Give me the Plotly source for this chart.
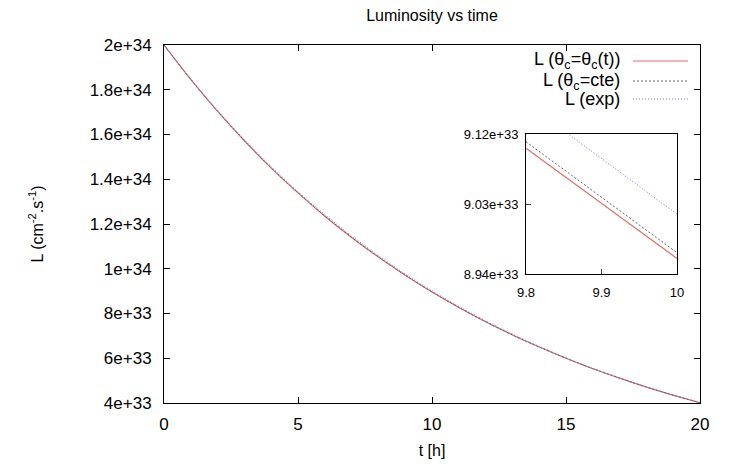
import plotly.graph_objects as go

# ---- data ----
t_hours = [0, 1, 2, 3, 4, 5, 6, 7, 8, 9, 10, 11, 12, 13, 14, 15, 16, 17, 18, 19, 20]
L_theta_t = [2.000e34, 1.846e34, 1.703e34, 1.572e34, 1.450e34, 1.339e34, 1.235e34, 1.140e34,
             1.052e34, 9.710e33, 8.960e33, 8.270e33, 7.630e33, 7.040e33, 6.500e33, 6.000e33,
             5.530e33, 5.110e33, 4.710e33, 4.350e33, 4.010e33]
L_theta_cte = [2.000e34, 1.846e34, 1.704e34, 1.573e34, 1.451e34, 1.340e34, 1.236e34, 1.141e34,
               1.053e34, 9.717e33, 8.967e33, 8.276e33, 7.636e33, 7.045e33, 6.504e33, 6.003e33,
               5.533e33, 5.112e33, 4.712e33, 4.351e33, 4.010e33]
L_exp = [2.000e34, 1.848e34, 1.707e34, 1.577e34, 1.456e34, 1.345e34, 1.242e34, 1.147e34,
         1.059e34, 9.770e33, 9.017e33, 8.320e33, 7.675e33, 7.080e33, 6.530e33, 6.025e33,
         5.550e33, 5.125e33, 4.720e33, 4.356e33, 4.010e33]

# zoomed detail (inset)
t_zoom = [9.8, 9.9, 10.0]
Lz_theta_t = [9.1016e33, 9.0310e33, 8.9600e33]
Lz_theta_cte = [9.1100e33, 9.0390e33, 8.9674e33]
Lz_exp = [9.1600e33, 9.0880e33, 9.0170e33]

x_ticks = [0, 5, 10, 15, 20]
y_ticks = [4e33, 6e33, 8e33, 1e34, 1.2e34, 1.4e34, 1.6e34, 1.8e34, 2e34]
y_tick_labels = ["4e+33", "6e+33", "8e+33", "1e+34", "1.2e+34", "1.4e+34", "1.6e+34", "1.8e+34", "2e+34"]
inset_x_ticks = [9.8, 9.9, 10]
inset_x_labels = ["9.8", "9.9", "10"]
inset_y_ticks = [8.94e33, 9.03e33, 9.12e33]
inset_y_labels = ["8.94e+33", "9.03e+33", "9.12e+33"]

legend_labels = ["L (θ<sub>c</sub>=θ<sub>c</sub>(t))", "L (θ<sub>c</sub>=cte)", "L (exp)"]

RED = "rgb(222,110,110)"
GREY = "rgb(100,100,100)"
BLUE = "rgb(120,120,205)"
styles = [dict(color=RED, width=1.2), dict(color=GREY, width=1.0, dash="2px,2px"),
          dict(color=BLUE, width=1.0, dash="1px,2px")]

fig = go.Figure()
for ys, st, name in zip([L_theta_t, L_theta_cte, L_exp], styles, legend_labels):
    fig.add_trace(go.Scatter(x=t_hours, y=ys, mode="lines", line=dict(shape="spline", **st),
                             name=name, showlegend=False, xaxis="x", yaxis="y"))
for ys, st, name in zip([Lz_theta_t, Lz_theta_cte, Lz_exp], styles, legend_labels):
    fig.add_trace(go.Scatter(x=t_zoom, y=ys, mode="lines", line=st, name=name,
                             showlegend=False, xaxis="x2", yaxis="y2", cliponaxis=True))

# page has an 8px body margin; work in page pixels and convert
OFF = 8
W, H = 739 - OFF, 466 - OFF
PL, PR, PT, PB = 164, 700, 45, 403          # plot box in page pixels
ML, MT = PL - OFF, PT - OFF
MR, MB = W - (PR - OFF), H - (PB - OFF)
pw, ph = PR - PL, PB - PT

def px_x(p):
    return (p - PL) / pw

def px_y(p):
    return (PB - p) / ph

FONT = "Liberation Sans, Arial, sans-serif"

axis_common = dict(showgrid=False, zeroline=False, showline=True, linecolor="black",
                   linewidth=1, ticks="inside", ticklen=6, tickcolor="black", automargin=False,
                   tickfont=dict(size=17, color="black", family=FONT))

fig.update_layout(
    width=W, height=H,
    margin=dict(l=ML, r=MR, t=MT, b=MB, autoexpand=False),
    paper_bgcolor="white", plot_bgcolor="white",
    font=dict(family=FONT, color="black"),
    title=dict(text="Luminosity vs time", x=(432 - OFF) / W, xanchor="center",
               y=1 - (15 - OFF) / H, yanchor="middle", font=dict(size=16), automargin=False),
    xaxis=dict(range=[0, 20], tickvals=x_ticks, ticktext=[str(v) for v in x_ticks],
               mirror="ticks", domain=[0, 1], ticklabelstandoff=6,
               title=dict(text="t [h]", font=dict(size=16), standoff=11), **axis_common),
    yaxis=dict(range=[4e33, 2e34], tickvals=y_ticks, ticktext=y_tick_labels,
               mirror="ticks", domain=[0, 1], ticklabelstandoff=8,
               title=dict(text="L (cm<sup>-2</sup>.s<sup>-1</sup>)", font=dict(size=16), standoff=42),
               **axis_common),
    xaxis2=dict(range=[9.8, 10], tickvals=inset_x_ticks, ticktext=inset_x_labels,
                domain=[px_x(526), px_x(677)], anchor="y2", mirror=True, automargin=False,
                showgrid=False, zeroline=False, showline=True, linecolor="black", linewidth=1,
                ticks="inside", ticklen=5, ticklabelstandoff=6,
                tickfont=dict(size=13, color="black", family=FONT)),
    yaxis2=dict(range=[8.94e33, 9.12e33], tickvals=inset_y_ticks, ticktext=inset_y_labels,
                domain=[px_y(274), px_y(134)], anchor="x2", mirror=True, automargin=False,
                showgrid=False, zeroline=False, showline=True, linecolor="black", linewidth=1,
                ticks="inside", ticklen=5, ticklabelstandoff=4,
                tickfont=dict(size=13, color="black", family=FONT)),
)

# custom legend: text right-aligned, sample line to its right (gnuplot style)
legend_rows_y = [61, 81, 99]
for label, st, yy in zip(legend_labels, styles, legend_rows_y):
    fig.add_annotation(text=label, xref="paper", yref="paper", x=px_x(621), y=px_y(yy),
                       xanchor="right", yanchor="middle", showarrow=False, borderpad=0,
                       font=dict(size=18, color="black", family=FONT))
    fig.add_shape(type="line", xref="paper", yref="paper", x0=px_x(633), x1=px_x(688),
                  y0=px_y(yy), y1=px_y(yy), line=st)

fig.write_html("out.html")
